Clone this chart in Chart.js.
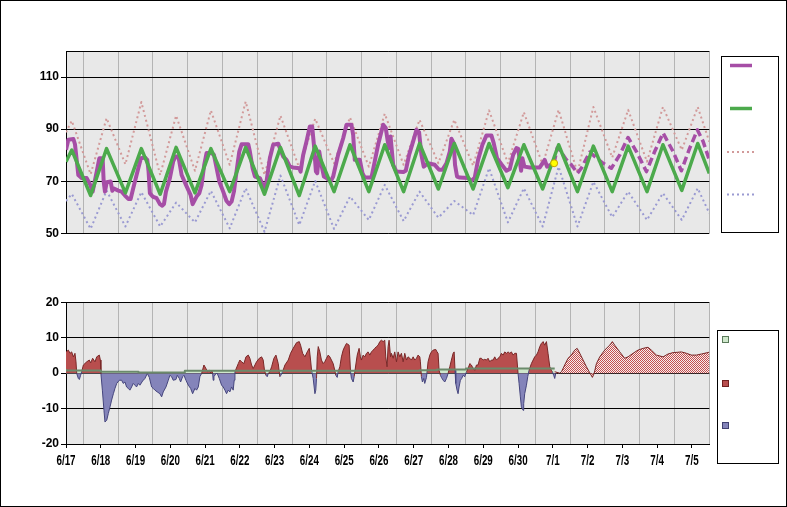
<!DOCTYPE html>
<html>
<head>
<meta charset="utf-8">
<script src="https://cdn.jsdelivr.net/npm/chart.js"></script>
<style>
  body { margin: 0; background: #fff; }
  #frame { position: relative; width: 787px; height: 507px; overflow: hidden; }
  #frame canvas { position: absolute; left: 0; }
  #border { position: absolute; left: 0; top: 0; width: 787px; height: 507px;
            box-sizing: border-box; border: 1px solid #000; pointer-events: none; }
</style>
</head>
<body>
<div id="frame">
  <canvas id="tempChart" width="787" height="260" style="top:0"></canvas>
  <canvas id="depChart" width="787" height="247" style="top:260px"></canvas>
  <div id="border"></div>
</div>
<script>
// === Data (hours counted from 6/17 00:00, plot runs 6/17 12:00 -> 7/6 00:00) ===
const dayLabels = ['6/17','6/18','6/19','6/20','6/21','6/22','6/23','6/24','6/25','6/26',
                   '6/27','6/28','6/29','6/30','7/1','7/2','7/3','7/4','7/5'];
const tempTicks = [50, 70, 90, 110, 120];
const depTicks = [-20, -10, 0, 10, 20];

// daily swing points (afternoon highs / early morning lows) for normal + records
const swingHours = [12, 16, 29, 40, 53, 64, 77, 88, 101, 112, 125, 136, 149, 160, 173, 184, 197, 208, 221,
                    232, 245, 256, 269, 280, 293, 304, 317, 328, 341, 352, 365, 376, 389, 400, 413, 424, 437, 448, 456];
const normalTemps = [77.5, 82, 64.5, 82.5, 65.5, 82.5, 65, 83, 65.5, 82.5, 66, 83, 65, 83, 64.5, 83.5, 66, 84, 66,
                     84, 66, 84.5, 67, 84.5, 67, 84.5, 67.5, 84, 67, 84, 66, 83.5, 66, 83.5, 66, 84, 66.5, 84.5, 73];
const recordHighs = [88.8, 93.2, 72.7, 94.2, 76.5, 100.4, 72.4, 95.2, 74, 97.2, 76.3, 100.6, 72.4, 95.2, 75, 94, 76.9, 94.5, 75.6,
                     95.9, 76.3, 93.6, 76.9, 93.6, 76, 97.2, 76.9, 96.5, 76.3, 97.4, 73.3, 98.5, 79.1, 97.4, 77.5, 98.5, 82, 98.5, 85.2];
const recordLows = [62.4, 65.1, 51.7, 66.4, 52.6, 65.8, 52.6, 61.8, 54.2, 66.3, 51.9, 67.3, 50.6, 72.2, 53.2, 70.1, 51.7, 64.1, 55.1,
                    68.6, 54.7, 66, 56, 62.4, 57, 75, 54.2, 67.3, 52.6, 75.6, 52.6, 69.8, 56.2, 66, 55.1, 65.4, 55.1, 67.3, 57.7];

// observed temperature [hour, degF]
const observedTemps = [
  [12, 82.1], [13.6, 85.9], [17.1, 86.2], [18.2, 84.2], [20.5, 72.4], [22.8, 71.2], [26.3, 71.2], [28.6, 68.8],
  [30.4, 66], [33.2, 73.7], [35, 78.8], [37.3, 78.8], [38, 69.9], [38.9, 66], [40.1, 69.6], [42.8, 69.9],
  [44, 66.3], [44.7, 67.3], [48.1, 66.4], [50.4, 66], [52.7, 64.5], [55, 63.2], [56.6, 63.2], [58.4, 67.3],
  [61.9, 75], [63.7, 78.8], [66.5, 79.1], [68.1, 78.2], [69, 73.7], [69.9, 65.4], [71.8, 64.1], [74.5, 63.5],
  [76.8, 61.2], [78.5, 60.6], [79.6, 61.2], [81, 66], [83.7, 71.2], [86, 77.6], [87.6, 79.5], [89.5, 79.5],
  [90.2, 77.6], [91.8, 72.4], [94.8, 68.6], [98, 64.7], [99.4, 61.2], [100.3, 62.2], [102.1, 64.1], [104, 65.4],
  [105.6, 68.6], [107.4, 76.3], [109, 80.8], [112.5, 80.8], [114.1, 80.1], [115.5, 76.3], [117.8, 69.9], [120.5, 66],
  [122.8, 62.4], [124.7, 61.2], [126.3, 62.2], [127.9, 66], [129.7, 73.7], [131.6, 81.4], [133.2, 84.2], [137.8, 84.2],
  [138.9, 81.4], [140.8, 75], [142.4, 71.8], [145.8, 71.2], [147.7, 68.6], [149, 67.3], [150.4, 69.9], [152.7, 78.8],
  [155, 84], [158.5, 84.4], [159.6, 82.7], [161.9, 79.5], [164.2, 78.2], [166.5, 75.6], [168.8, 75.3], [173, 75],
  [173.9, 73.7], [175.7, 80.1], [178, 85.3], [180.3, 91], [181.9, 91], [183.1, 84], [184.5, 73.7], [185.4, 73.1],
  [186.8, 81.4], [188.3, 76.3], [190, 71.8], [191.8, 71.2], [194.6, 69.9], [196.4, 71.8], [199.8, 80.1], [203.3, 86.5],
  [205.6, 91.7], [209, 91.7], [210.2, 87.8], [211.3, 78.2], [214.8, 78.2], [216.6, 73.1], [218.2, 71.4], [222.8, 71.4],
  [225.1, 77.6], [227.4, 84], [230.9, 91.7], [232.7, 90.4], [233.9, 85.9], [235, 82.7], [236, 87.2], [237.8, 76.3],
  [240.1, 73.7], [244.7, 73.5], [246.5, 74], [248.8, 80.1], [251.6, 85.3], [253.9, 89.7], [255.7, 88.8], [257.3, 80.1],
  [258.9, 75.6], [261.9, 76.9], [266.5, 76.3], [269.5, 74.4], [271.8, 74.4], [274.6, 76.9], [276.9, 81.4], [278, 86.3],
  [279.6, 84.6], [280.5, 76.3], [281.9, 71.8], [283.8, 71.4], [289.5, 71.2], [291.8, 70.1], [294.1, 71.4], [296.4, 78.2],
  [299.4, 84], [302.2, 87.6], [305.6, 87.6], [307.2, 84.6], [309.5, 78.8], [312.5, 76.5], [316, 74], [318.3, 74.7],
  [320.6, 80.1], [322.9, 82.7], [324.2, 82.4], [325.2, 77.6], [326.1, 74], [327, 78.8], [328.4, 75.6], [332.1, 75.3],
  [339, 75.3], [342.4, 78.2], [344, 75.6], [348.9, 76.9]
];
// forecast temperature [hour, degF]
const forecastTemps = [
  [348.9, 76.9], [351, 82.7], [352.8, 82.1], [357.4, 78.2], [360.8, 76.3], [365, 73.1], [367.7, 75], [373.5, 81.2],
  [376.9, 79.5], [382.7, 76.9], [388.4, 75], [394.2, 80.1], [399.9, 86.8], [405.7, 81.4], [412.6, 73.7], [418.3, 81.4],
  [424.1, 88.5], [431, 81.4], [436.7, 74], [442.5, 82.7], [447.8, 89.7], [451.7, 85.3], [456, 78.2]
];
const latestObs = [[348.9, 76.9]];

// departure from normal [hour, degF]
const observedDeparture = [
  [12, 6], [13.6, 6.5], [14.8, 5.6], [15.9, 6], [17.1, 4.6], [18.2, 5.6], [18.9, 3.2], [19.4, -0.1],
  [20.5, -1.5], [21.2, -1.8], [22.1, -0.6], [22.8, 0.4], [24, 2.3], [26.3, 3.2], [28.1, 3.7], [29, 2.9],
  [30.4, 4.2], [32, 3.2], [33.2, 4.6], [35, 5.1], [35.7, 3.7], [36.1, -0.1], [37.1, -4.8], [38.2, -10.5],
  [38.9, -13.8], [40.1, -13.3], [41.2, -11.4], [42.4, -9.5], [43.5, -7.6], [44.7, -5.8], [45.8, -4.3], [47, -2.9],
  [48.8, -2], [50.4, -2], [51.5, -2.9], [52.7, -2.5], [53.8, -3.9], [55, -4.3], [56.1, -4.8], [57.3, -3.9],
  [58.4, -2.9], [59.6, -3.4], [60.7, -3.9], [61.9, -2.9], [63, -3.4], [64.9, -2.2], [66.5, -1.5], [68.1, -0.1],
  [69.5, -1.2], [71.1, -3.9], [72.2, -4.3], [73.4, -4.8], [75, -5.3], [76.8, -5.8], [78, -6.7], [79.1, -5.3],
  [81, -3.9], [82.6, -2], [83.7, -0.6], [84.9, -1], [86, -2], [87.9, -1.8], [88.8, -0.6], [90.2, -1.5],
  [91.1, -2.5], [92.5, -1], [93.4, -0.6], [94.8, -2], [96.4, -3.4], [98, -4.3], [99.4, -5.8], [101, -4.3],
  [102.1, -4.8], [103.3, -3.9], [104.4, -1], [105.6, -0.1], [107.2, 2.3], [108.6, 1.3], [109.7, 0.4], [110.9, 0.8],
  [111.8, 0.1], [112.7, 0.8], [113.2, -0.1], [113.6, -2], [114.1, -1], [115.5, -0.1], [116.4, -0.1], [117.8, -1.5],
  [119.4, -3.4], [120.5, -3.9], [121.7, -4.8], [122.8, -5.8], [124, -4.8], [125.1, -5.3], [126.3, -3.9], [127.4, -4.8],
  [128.1, -2], [128.6, 0.4], [130.9, 2.7], [132, 3.7], [133.2, 3.2], [134.8, 2.7], [136.2, 4.6], [137.8, 5.1],
  [138.9, 4.2], [140.1, 2.3], [141.2, 1.3], [142.4, 2.3], [143.5, 3.2], [145.4, 4.2], [147, 4.6], [148.1, 3.7],
  [149, 0.8], [150, -0.6], [150.9, -1], [151.6, -0.1], [152.7, 0.4], [153.9, 1.8], [155.5, 4.2], [156.9, 5.1],
  [158.5, 2.7], [159.6, -1], [160.3, -0.6], [161.5, 0.4], [163.1, 2.3], [165.4, 3.7], [167, 5.6], [168.8, 7],
  [171.1, 8.6], [173, 8.9], [173.9, 7.9], [175.3, 5.6], [176.9, 4.6], [178.5, 6], [179.9, 7], [180.8, 3.7],
  [181.5, 0.8], [182.6, -1.5], [183.8, -5.8], [184.4, -4.8], [184.9, -1.5], [185.4, 4.6], [186.1, 7.5], [187.2, 6],
  [188.3, 3.7], [189.5, 2.7], [190.6, 3.2], [191.8, 4.2], [193, 5.1], [194.1, 4.6], [195.2, 3.7], [196.4, 2.7],
  [197.5, 0.8], [198.2, -0.6], [199.2, -1.2], [199.8, 0.4], [201, 1.8], [202.1, 4.6], [203.3, 6.5], [204.4, 7.5],
  [205.6, 8.4], [207.4, 7.9], [208.4, 0.4], [209, -1.5], [210.2, -2.5], [210.9, -1], [212, 2.3], [213, 5.1],
  [214.3, 7], [215.2, 4.6], [215.9, 3.7], [217.1, 5.1], [218.2, 4.6], [219.4, 5.6], [220.5, 6], [221.7, 5.1],
  [222.8, 6], [224, 6.5], [225.1, 7], [226.3, 7.5], [227.4, 7.9], [228.6, 8.9], [229.7, 9.3], [230.9, 8.9],
  [232, 9.3], [232.7, 4.6], [233.6, 1.8], [234.3, 7.5], [235, 9.3], [236, 4.6], [236.6, 5.6], [237.8, 4.2],
  [238.9, 6], [240.1, 3.2], [241.2, 6], [242.4, 4.6], [243.5, 5.6], [244.7, 3.2], [245.8, 5.6], [247, 3.7],
  [248.1, 4.6], [249.3, 4.2], [250.4, 3.7], [251.6, 4.6], [252.7, 3.7], [253.9, 4.2], [255, 5.1], [256.2, 4.6],
  [256.6, 3.2], [257.3, -1], [258, -2.5], [258.9, -1.5], [259.6, -2.9], [260.8, -1.2], [261.2, 0.4], [261.9, 3.2],
  [263.1, 5.1], [264.2, 6], [265.4, 6.5], [267.2, 6.7], [268.1, 6], [268.8, 5.6], [269.5, 0.8], [270.4, -0.6],
  [271.1, -1.2], [272.3, -2], [273.4, -2.5], [274.6, -1.5], [275.7, -0.1], [276.9, 1.8], [278, 3.7], [279.2, 5.6],
  [279.9, 6], [280.5, 0.8], [281, -2.9], [281.9, -4.8], [282.6, -5.8], [283.3, -3.9], [284.2, -2], [285.1, -1.5],
  [286.1, -0.6], [287.2, -1], [288.4, 0.4], [289.5, 1.3], [290.7, 2.7], [291.8, 2.3], [293, 1.3], [294.1, 0.8],
  [295.3, 2.3], [296.4, 2.3], [297.6, 4.2], [298.7, 4.2], [299.9, 3.7], [301, 3.9], [302.2, 3.7], [303.3, 4.2],
  [304.5, 3.2], [305.6, 3.7], [306.8, 3.7], [307.9, 4.6], [309.1, 3.7], [310.2, 4.2], [311.4, 4.6], [312.5, 5.6],
  [313.7, 5.1], [314.8, 6], [316, 5.6], [317.1, 6], [318.3, 5.6], [319.4, 6], [320.6, 5.1], [321.7, 5.6],
  [322.9, 5.6], [324, -0.1], [324.7, -2.9], [325.6, -6.7], [326.3, -9.5], [327.5, -10.5], [327.9, -8.6], [328.6, -5.8],
  [329.8, -3.4], [330.7, -1], [331.6, 0.8], [333.2, 2.7], [334.4, 3.7], [335.5, 4.6], [336.7, 5.1], [337.8, 6],
  [339, 7.5], [340.1, 8.4], [341.3, 8.9], [342.4, 7.9], [343.6, 8.9], [344.7, 5.6], [345.9, 1.8], [347, 0.8],
  [347.7, 0.4], [348.6, -0.6], [349.3, -1.5], [350, -0.1]
];
const forecastDeparture = [
  [349.3, 0.4], [352.8, 0], [354, 0.4], [356.2, 2.3], [358.5, 4.2], [360.8, 5.1], [363.1, 6.5], [364.8, 7],
  [366.6, 5.6], [368.9, 3.7], [371.2, 1.8], [373.5, 0.1], [375.3, -1.2], [376.5, -0.1], [378.1, 2.7], [380.4, 4.6],
  [383.8, 6.5], [387.3, 7.9], [389.1, 8.9], [390.7, 7.9], [394.2, 6], [397.6, 4.2], [399.9, 4.6], [403.4, 5.6],
  [406.8, 6.5], [410.3, 7], [413.7, 7.3], [416, 6.5], [419.5, 5.1], [424.1, 4.6], [427.5, 5.4], [431, 5.8],
  [434.4, 5.9], [436.7, 6], [440.2, 5.6], [443.6, 5.1], [447.1, 5.1], [450.5, 5.4], [456, 5.9]
];
// running average departure (step line)
const averageDeparture = [
  [12, 1.2], [36, 0.75], [62, 0.4], [94, 0.2], [256, 0.65], [268, 0.85], [288, 1.0], [311, 1.3], [349.3, 1.3]
];

// === Styling ===
const X_MIN = 12, X_MAX = 456;
const PURPLE = '#a64ea6', GREEN = '#4caa4c', PINK = '#d29a9a', LAVENDER = '#9a9ad2';
const RED = '#b84e4e', BLUE = '#8484ba', LIGHTGREEN = '#cfe8cc';
Chart.defaults.font.family = "'Liberation Sans', Arial, sans-serif";

const pts = arr => arr.map(([x, y]) => ({ x, y }));
const swing = vals => swingHours.map((x, i) => ({ x, y: vals[i] }));

// checkered fill for forecast departures
const hatchCanvas = document.createElement('canvas');
hatchCanvas.width = 2; hatchCanvas.height = 2;
const hc = hatchCanvas.getContext('2d');
hc.fillStyle = '#f6eeee'; hc.fillRect(0, 0, 2, 2);
hc.fillStyle = '#c44e4e'; hc.fillRect(0, 0, 1, 1); hc.fillRect(1, 1, 1, 1);
const hatch = hc.createPattern(hatchCanvas, 'repeat');

function gridAxis() {
  return {
    type: 'linear', min: X_MIN, max: X_MAX, position: 'bottom',
    afterBuildTicks: s => { s.ticks = dayLabels.map((_, i) => ({ value: 24 * (i + 1) })); },
    ticks: { display: false },
    grid: { color: '#b4b4b4', drawTicks: false },
    border: { display: false },
    afterFit: s => { s.height = 0; }
  };
}

function valueAxis(min, max, values, hidden) {
  return {
    type: 'linear', min, max, position: 'left',
    afterBuildTicks: s => { s.ticks = values.map(v => ({ value: v })); },
    ticks: {
      color: '#000', padding: 2, font: { size: 12, weight: 'bold' },
      callback: v => hidden.includes(v) ? '' : v
    },
    grid: {
      color: '#000', tickLength: 5,
      tickColor: c => (c.tick && hidden.includes(c.tick.value)) ? 'rgba(0,0,0,0)' : '#000'
    },
    border: { color: '#000' },
    afterFit: s => { s.width = 66; }
  };
}

const plotBg = {
  id: 'plotBg',
  beforeDraw(chart) {
    const { ctx, chartArea: a } = chart;
    ctx.save();
    ctx.fillStyle = '#e8e8e8';
    ctx.fillRect(a.left, a.top, a.right - a.left, a.bottom - a.top);
    ctx.restore();
  }
};

function legendLine(c, x1, x2, y, color, width, dash) {
  c.beginPath();
  c.strokeStyle = color; c.lineWidth = width; c.setLineDash(dash);
  c.moveTo(x1, y); c.lineTo(x2, y); c.stroke();
  c.setLineDash([]);
}
function legendSwatch(c, x, y, fill, stroke) {
  c.fillStyle = fill; c.fillRect(x, y, 6, 6);
  c.strokeStyle = stroke; c.lineWidth = 1; c.strokeRect(x + 0.5, y + 0.5, 6, 6);
}

const common = {
  responsive: false, animation: false, events: [],
  elements: { line: { tension: 0, borderJoinStyle: 'round', fill: false }, point: { radius: 0 } },
  plugins: { legend: { display: false }, tooltip: { enabled: false } }
};

// === Temperature chart ===
new Chart(document.getElementById('tempChart'), {
  type: 'line',
  data: {
    datasets: [
      { data: pts(latestObs), showLine: false, pointRadius: 3.5, pointBackgroundColor: '#ffff00',
        pointBorderColor: '#c8a000', pointBorderWidth: 1, order: 0 },
      { data: swing(normalTemps), borderColor: GREEN, borderWidth: 3.5, order: 1 },
      { data: pts(observedTemps), borderColor: PURPLE, borderWidth: 4, order: 2 },
      { data: pts(forecastTemps), borderColor: PURPLE, borderWidth: 3.5, borderDash: [8, 4], order: 2 },
      { data: swing(recordHighs), borderColor: PINK, borderWidth: 2, borderDash: [2, 3], order: 3 },
      { data: swing(recordLows), borderColor: LAVENDER, borderWidth: 2, borderDash: [2, 3], order: 3 }
    ]
  },
  options: {
    ...common,
    layout: { padding: { left: 0, top: 51, right: 77.7, bottom: 26.7 } },
    scales: { x: gridAxis(), y: valueAxis(50, 120, tempTicks, [120]) }
  },
  plugins: [plotBg, {
    id: 'tempLegend',
    afterDraw(chart) {
      const c = chart.ctx;
      c.save();
      c.strokeStyle = '#000'; c.lineWidth = 1;
      c.strokeRect(721.5, 56.5, 57, 176);
      legendLine(c, 730, 752, 65.5, PURPLE, 3.5, []);
      legendLine(c, 730, 752, 108.5, GREEN, 3.5, []);
      legendLine(c, 727, 756, 152, PINK, 2, [2, 3]);
      legendLine(c, 727, 756, 194.5, LAVENDER, 2, [2, 3]);
      c.restore();
    }
  }]
});

// === Departure chart ===
new Chart(document.getElementById('depChart'), {
  type: 'line',
  data: {
    datasets: [
      { data: pts(averageDeparture), stepped: 'after', fill: 'origin', backgroundColor: LIGHTGREEN,
        borderColor: 'rgba(0,0,0,0)', borderWidth: 0, order: 4 },
      { data: pts(observedDeparture), fill: { target: 'origin', above: RED, below: BLUE }, borderWidth: 1,
        segment: { borderColor: c => (c.p0.parsed.y + c.p1.parsed.y) >= 0 ? '#7a2828' : '#46467e' }, order: 3 },
      { data: pts(forecastDeparture), fill: 'origin', backgroundColor: hatch, borderColor: '#7a2828',
        borderWidth: 1, order: 3 },
      { data: pts(averageDeparture), stepped: 'after', borderColor: '#6b8a6b', borderWidth: 2, order: 1 }
    ]
  },
  options: {
    ...common,
    layout: { padding: { left: 0, top: 42.3, right: 77.7, bottom: 0 } },
    scales: {
      x: gridAxis(),
      xl: {
        type: 'linear', min: X_MIN, max: X_MAX, position: 'bottom',
        afterBuildTicks: s => { s.ticks = dayLabels.map((_, i) => ({ value: 12 + 24 * i })); },
        ticks: { display: false },
        grid: { drawOnChartArea: false, color: '#000', tickLength: 4 },
        border: { color: '#000' },
        afterFit: s => { s.height = 63; }
      },
      y: valueAxis(-20, 20, depTicks, [])
    }
  },
  plugins: [plotBg, {
    id: 'dayLabels',
    // condensed bold day labels placed on the xl scale ticks
    afterDraw(chart) {
      const c = chart.ctx, s = chart.scales.xl;
      c.save();
      c.font = "bold 14px 'Liberation Sans', Arial, sans-serif";
      c.fillStyle = '#000'; c.textAlign = 'center'; c.textBaseline = 'alphabetic';
      s.ticks.forEach((t, i) => {
        c.save();
        c.translate(s.getPixelForValue(t.value), 205);
        c.scale(0.7, 1);
        c.fillText(dayLabels[i], 0, 0);
        c.restore();
      });
      c.restore();
    }
  }, {
    id: 'depLegend',
    afterDraw(chart) {
      const c = chart.ctx;
      c.save();
      c.strokeStyle = '#000'; c.lineWidth = 1;
      c.strokeRect(717.5, 70.5, 61, 133);
      legendSwatch(c, 722, 76, LIGHTGREEN, '#5a7a5a');
      legendSwatch(c, 722, 120, RED, '#702020');
      legendSwatch(c, 722, 162, BLUE, '#404070');
      c.restore();
    }
  }]
});
</script>
</body>
</html>
